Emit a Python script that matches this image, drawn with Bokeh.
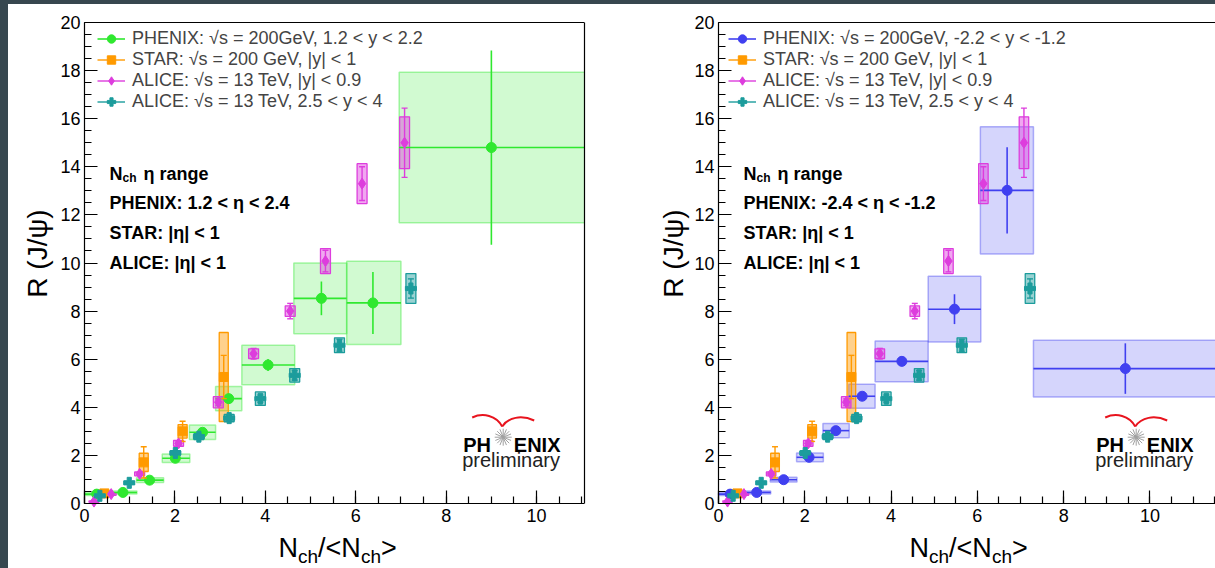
import numpy as np
from bokeh.plotting import figure
from bokeh.models import Range1d, FixedTicker, Label, Legend, LegendItem, Spacer, LinearAxis
from bokeh.layouts import row, column
from bokeh.embed import file_html
from bokeh.resources import INLINE

FONT = "Liberation Sans"
BG = "#37474f"

# ---------------- data ----------------
x_ticks = [0, 2, 4, 6, 8, 10, 12]
y_ticks = [0, 2, 4, 6, 8, 10, 12, 14, 16, 18, 20]

# PHENIX forward (1.2 < y < 2.2) - left panel
phx_fwd_x    = [0.27, 0.85, 1.44, 2.01, 2.61, 3.19, 4.06, 5.24, 6.38, 9.00]
phx_fwd_xlo  = [0.00, 0.55, 1.15, 1.72, 2.32, 2.90, 3.48, 4.63, 5.80, 6.96]
phx_fwd_xhi  = [0.55, 1.16, 1.75, 2.33, 2.90, 3.48, 4.65, 5.80, 7.00, 11.10]
phx_fwd_y    = [0.39, 0.46, 0.97, 1.88, 2.96, 4.36, 5.76, 8.53, 8.34, 14.80]
phx_fwd_stat = [0.05, 0.05, 0.08, 0.10, 0.12, 0.20, 0.25, 0.70, 1.29, 4.04]
phx_fwd_sys  = [0.06, 0.06, 0.10, 0.18, 0.30, 0.50, 0.82, 1.47, 1.73, 3.13]

# PHENIX backward (-2.2 < y < -1.2) - right panel
phx_bwd_x    = [0.27, 0.885, 1.51, 2.10, 2.72, 3.33, 4.25, 5.47, 6.69, 9.43]
phx_bwd_xlo  = [0.00, 0.55, 1.20, 1.81, 2.42, 3.02, 3.63, 4.86, 6.07, 7.30]
phx_bwd_xhi  = [0.55, 1.21, 1.82, 2.43, 3.03, 3.63, 4.86, 6.08, 7.30, 11.56]
phx_bwd_y    = [0.39, 0.46, 0.99, 1.92, 3.03, 4.46, 5.91, 8.08, 13.02, 5.61]
phx_bwd_stat = [0.05, 0.05, 0.08, 0.10, 0.12, 0.15, 0.20, 0.62, 1.79, 1.05]
phx_bwd_sys  = [0.06, 0.06, 0.10, 0.18, 0.30, 0.50, 0.85, 1.37, 2.65, 1.18]

# STAR, sqrt(s) = 200 GeV, |y| < 1
star_x    = [0.44, 1.31, 2.17, 3.08]
star_y    = [0.42, 1.71, 3.00, 5.26]
star_stat = [0.05, 0.65, 0.42, 0.90]
star_sys  = [0.12, 0.38, 0.28, 1.85]

# ALICE, sqrt(s) = 13 TeV, |y| < 0.9
alice_mid_x    = [0.21, 0.59, 1.22, 2.08, 2.96, 3.74, 4.55, 5.33, 6.14, 7.08]
alice_mid_y    = [0.08, 0.39, 1.23, 2.50, 4.21, 6.23, 8.00, 10.08, 13.30, 15.00]
alice_mid_stat = [0.03, 0.04, 0.06, 0.09, 0.14, 0.22, 0.32, 0.45, 0.70, 1.44]
alice_mid_sys  = [0.03, 0.05, 0.08, 0.12, 0.23, 0.20, 0.22, 0.52, 0.83, 1.08]

# ALICE, sqrt(s) = 13 TeV, 2.5 < y < 4
alice_fwd_x    = [0.34, 0.99, 2.01, 2.53, 3.20, 3.89, 4.65, 5.64, 7.22]
alice_fwd_y    = [0.32, 0.86, 2.10, 2.78, 3.55, 4.36, 5.33, 6.58, 8.94]
alice_fwd_stat = [0.03, 0.05, 0.08, 0.10, 0.12, 0.15, 0.20, 0.25, 0.40]
alice_fwd_sys  = [0.04, 0.06, 0.10, 0.12, 0.15, 0.28, 0.28, 0.31, 0.62]

legend_left = ["PHENIX: √s = 200GeV, 1.2 < y < 2.2",
               "STAR: √s = 200 GeV, |y| < 1",
               "ALICE: √s = 13 TeV, |y| < 0.9",
               "ALICE: √s = 13 TeV, 2.5 < y < 4"]
legend_right = ["PHENIX: √s = 200GeV, -2.2 < y < -1.2",
                "STAR: √s = 200 GeV, |y| < 1",
                "ALICE: √s = 13 TeV, |y| < 0.9",
                "ALICE: √s = 13 TeV, 2.5 < y < 4"]
eta_left = ["PHENIX: 1.2 < η < 2.4", "STAR: |η| < 1", "ALICE: |η| < 1"]
eta_right = ["PHENIX: -2.4 < η < -1.2", "STAR: |η| < 1", "ALICE: |η| < 1"]

GREEN = "#2fe82f"
BLUE = "#4040f0"
ORANGE = "#ff9a00"
MAGENTA = "#dd3ddd"
TEAL = "#1c9c9c"

WIN_H = 568
TOP_STRIP = 4
FRAME_TOP = 22              # window pixel row of y = 20
FRAME_BOTTOM = 503          # window pixel row of y = 0
SY = (FRAME_BOTTOM - FRAME_TOP) / 20.0


def build_panel(width, fig_left, br, x_end, win_left, plot_w, phx, phx_color, labels, eta_lines,
                xt_start, yt_x, logo_x, leg_dx, right_border):
    sx = plot_w / x_end

    def d(X, Y):
        return (X - win_left) / sx, (FRAME_BOTTOM - Y) / SY

    x_start = -(win_left - fig_left) / sx
    y_start = -(WIN_H - FRAME_BOTTOM) / SY
    y_end = 20 + (FRAME_TOP - TOP_STRIP) / SY
    p = figure(width=width, height=WIN_H - TOP_STRIP, x_range=Range1d(x_start, x_end),
               y_range=Range1d(y_start, y_end),
               output_backend="svg", toolbar_location=None,
               min_border_left=0, min_border_right=br, min_border_top=0, min_border_bottom=0)
    p.xgrid.visible = False
    p.ygrid.visible = False
    p.background_fill_color = "white"
    p.border_fill_color = "white"
    p.outline_line_color = None

    minor = [i * 0.5 for i in range(41)]
    p.xaxis.ticker = FixedTicker(ticks=x_ticks, minor_ticks=minor)
    p.yaxis.ticker = FixedTicker(ticks=y_ticks, minor_ticks=minor)
    p.xaxis.fixed_location = 0
    p.yaxis.fixed_location = 0
    p.xaxis.bounds = (0, x_end)
    p.yaxis.bounds = (0, 20)
    for ax in (p.xaxis[0], p.yaxis[0]):
        ax.major_tick_in = 13
        ax.major_tick_out = 0
        ax.minor_tick_in = 7
        ax.minor_tick_out = 0
        ax.axis_line_width = 1.2
        ax.major_tick_line_width = 1.2
        ax.minor_tick_line_width = 1.2
        ax.major_label_text_font = FONT
        ax.major_label_text_font_size = "18px"
        ax.major_label_text_color = "black"
    p.yaxis.major_label_standoff = 4
    p.xaxis.major_label_standoff = 5

    # frame borders: top line at y = 20, right line at the frame edge
    top_ax = LinearAxis(ticker=FixedTicker(ticks=[]), bounds=(0, x_end), axis_line_width=1.2,
                        fixed_location=20, major_tick_in=0, major_tick_out=0, minor_tick_in=0,
                        minor_tick_out=0, major_label_text_font_size="0px", major_label_standoff=0)
    p.add_layout(top_ax, "above")
    if right_border:
        r_ax = LinearAxis(ticker=FixedTicker(ticks=[]), bounds=(0, 20), axis_line_width=1.2,
                          major_tick_in=0, major_tick_out=0, minor_tick_in=0, minor_tick_out=0,
                          major_label_text_font_size="0px", major_label_standoff=0)
        p.add_layout(r_ax, "right")

    # --- PHENIX systematic boxes
    px_, py_, pxlo, pxhi, pstat, psys = [np.array(a, float) for a in phx]
    p.quad(left=pxlo, right=pxhi, bottom=py_ - psys, top=py_ + psys,
           fill_color=phx_color, fill_alpha=0.22, line_color=phx_color, line_alpha=0.4, line_width=1.5)

    series = [
        (star_x, star_y, star_stat, star_sys, ORANGE, 0.10, "square", 9),
        (alice_mid_x, alice_mid_y, alice_mid_stat, alice_mid_sys, MAGENTA, 0.11, "diamond", 11),
        (alice_fwd_x, alice_fwd_y, alice_fwd_stat, alice_fwd_sys, TEAL, 0.11, "plus", 11),
    ]
    for xs, ys, st, sy_, col, hw, mk, ms in series:
        xs, ys, sy_ = np.array(xs), np.array(ys), np.array(sy_)
        p.quad(left=xs - hw, right=xs + hw, bottom=ys - sy_, top=ys + sy_,
               fill_color=col, fill_alpha=0.45, line_color=col, line_width=1.3)

    # --- PHENIX stat bars and points
    hseg = p.segment(x0=pxlo, y0=py_, x1=pxhi, y1=py_, line_color=phx_color, line_width=1.6)
    p.segment(x0=px_, y0=py_ - pstat, x1=px_, y1=py_ + pstat, line_color=phx_color, line_width=1.6)
    phx_pts = p.scatter(x=px_, y=py_, marker="circle", size=10, color=phx_color)

    items = [LegendItem(label=labels[0], renderers=[hseg, phx_pts])]
    for (xs, ys, st, sy_, col, hw, mk, ms), lab in zip(series, labels[1:]):
        xs, ys, st = np.array(xs), np.array(ys), np.array(st)
        vseg = p.segment(x0=xs, y0=ys - st, x1=xs, y1=ys + st, line_color=col, line_width=1.4)
        p.scatter(x=np.concatenate([xs, xs]), y=np.concatenate([ys - st, ys + st]),
                  marker="dash", size=6, line_color=col, line_width=1.4)
        pts = p.scatter(x=xs, y=ys, marker=mk, size=ms, color=col)
        items.append(LegendItem(label=lab, renderers=[vseg, pts]))

    # legend: bottom-left corner given relative to the frame's bottom-left
    leg_h = 2 * 3 + 4 * 21
    leg_top_win = 38 - 3 - 10.5
    leg = Legend(items=items, location=(win_left - fig_left + leg_dx, WIN_H - (leg_top_win + leg_h)),
                 background_fill_alpha=0, border_line_alpha=0,
                 label_text_font=FONT, label_text_font_size="18px", glyph_width=28, glyph_height=21,
                 label_height=21, label_standoff=7, spacing=0, padding=3, margin=0)
    p.add_layout(leg)

    def text(X, Y, s, size, bold=False, align="left", baseline="alphabetic", angle=0.0, color="black"):
        x, y = d(X, Y)
        p.add_layout(Label(x=x, y=y, text=s, text_font=FONT, text_font_size=f"{size}px",
                           text_font_style="bold" if bold else "normal", text_align=align,
                           text_baseline=baseline, angle=angle, text_color=color))

    # text block
    x0 = win_left + 25
    text(x0, 173, "N", 18, True)
    text(x0 + 13, 177, "ch", 12, True)
    text(x0 + 34, 173, "η range", 18, True)
    for i, s in enumerate(eta_lines):
        text(x0, 202 + 30 * i, s, 18, True)

    # axis titles
    text(xt_start, 547, "N", 27)
    text(xt_start + 19.5, 556, "ch", 19)
    text(xt_start + 39.6, 547, "/<N", 27)
    text(xt_start + 82.4, 556, "ch", 19)
    text(xt_start + 102.5, 547, ">", 27)
    text(yt_x, 253, "R (J/ψ)", 28, align="center", baseline="middle", angle=np.pi / 2)

    # PHENIX preliminary logo
    LX = logo_x
    text(LX, 444, "PH", 20, True)
    text(LX + 50.6, 444, "ENIX", 20, True)
    text(LX - 1, 459.5, "preliminary", 20, False, color="#222222")
    sxs, sys_ = d(LX + 40, 436.7)
    p.scatter(x=[sxs], y=[sys_], marker="asterisk", size=17, line_color="#a0a0a0", line_width=1)
    p.scatter(x=[sxs], y=[sys_], marker="asterisk", size=17, angle=np.pi / 8, line_color="#a0a0a0", line_width=1)
    wings = [((LX + 9, 417), (LX + 20, 412), (LX + 33, 415), (LX + 39, 426)),
             ((LX + 39, 426), (LX + 45, 417), (LX + 58, 414), (LX + 71, 420))]
    bz = {k: [] for k in ["x0", "y0", "cx0", "cy0", "cx1", "cy1", "x1", "y1"]}
    for a, c0, c1, b in wings:
        for (kx, ky), pt in zip([("x0", "y0"), ("cx0", "cy0"), ("cx1", "cy1"), ("x1", "y1")], [a, c0, c1, b]):
            xx, yy = d(*pt)
            bz[kx].append(xx)
            bz[ky].append(yy)
    p.bezier(**bz, line_color="#e8141e", line_width=2)
    return p


p1 = build_panel(640, 8, 64, 11.06, 84, 500,
                 [phx_fwd_x, phx_fwd_y, phx_fwd_xlo, phx_fwd_xhi, phx_fwd_stat, phx_fwd_sys],
                 GREEN, legend_left, eta_left, 278, 37, 462.7, 10, True)
p2 = build_panel(567, 648, 0, 11.52, 718, 497,
                 [phx_bwd_x, phx_bwd_y, phx_bwd_xlo, phx_bwd_xhi, phx_bwd_stat, phx_bwd_sys],
                 BLUE, legend_right, eta_right, 909, 673, 1095.7, 7, False)

layout = column(Spacer(width=1215, height=TOP_STRIP, styles={"background-color": BG}),
                row(Spacer(width=8, height=WIN_H - TOP_STRIP, styles={"background-color": BG}), p1, p2))

open("out.html", "w").write(file_html(layout, INLINE))
